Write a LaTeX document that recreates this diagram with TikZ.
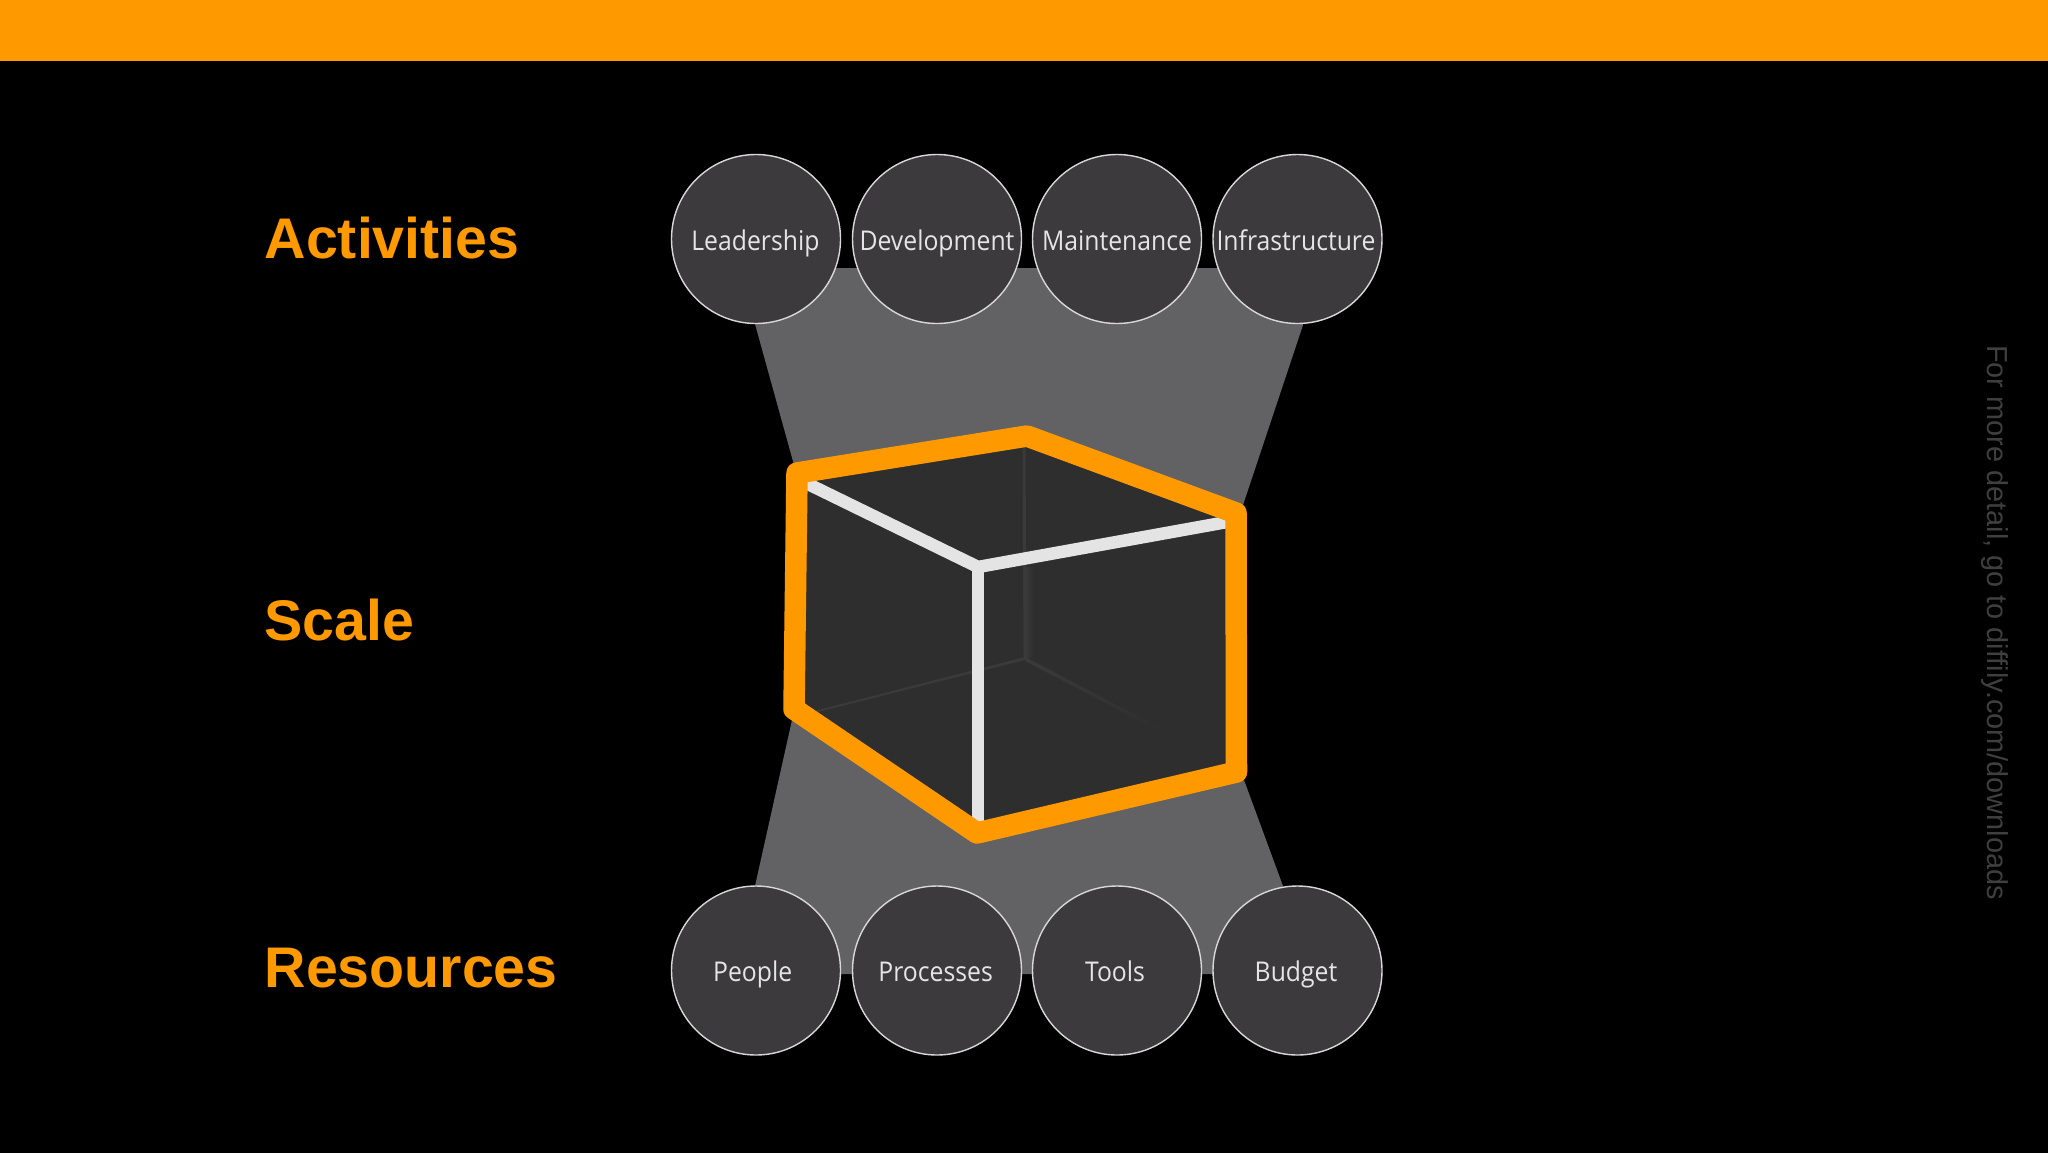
\documentclass[tikz,border=0pt]{standalone}
\usepackage{fontspec}
\setmainfont{Liberation Sans}
\newfontfamily\circfont[FakeStretch=0.91]{Open Sans}
\definecolor{barorange}{HTML}{FF9900}
\definecolor{bandgray}{HTML}{626163}
\definecolor{circfill}{HTML}{3C3A3D}
\definecolor{circline}{HTML}{D8D8D8}
\definecolor{cubefill}{HTML}{2E2E2F}
\definecolor{cubewhite}{HTML}{E4E4E4}
\definecolor{ghost}{HTML}{3A3A3B}
\definecolor{notegray}{HTML}{3F3F3F}
\tikzset{
  x=1pt,y=-1pt,
  bubble/.style={circle,draw=circline,line width=1.4pt,fill=circfill,minimum size=169pt,inner sep=0pt},
  bubbletext/.style={anchor=base,inner sep=0pt,text=white!90!black,font=\circfont\fontsize{27.2}{27.2}\selectfont},
  heading/.style={anchor=base west,inner sep=0pt,text=barorange,font=\bfseries\fontsize{57.3}{57.3}\selectfont},
  frameline/.style={draw=barorange,line width=21.5pt,line join=round},
  edgeline/.style={draw=cubewhite,line width=12.5pt,line join=miter},
  ghostline/.style={draw=ghost,line width=3pt},
  note/.style={anchor=base west,inner sep=0pt,rotate=-90,text=notegray,font=\fontsize{28.9}{28.9}\selectfont},
}
\begin{document}
\begin{tikzpicture}
\useasboundingbox (0,0) rectangle (2048,1152);
\fill[black] (-6,-6) rectangle (2054,1158);
\fill[barorange] (-6,-6) rectangle (2054,61);
% gray bands
\fill[bandgray] (756,268) -- (1297,268) -- (1303,325) -- (1243,505) -- (794,465) -- (755,324) -- cycle;
\fill[bandgray] (792,720) -- (1244,780) -- (1283,886) -- (1297,974) -- (756,974) -- (755,886) -- cycle;
% cube
\coordinate (tl) at (797,473);
\coordinate (tp) at (1027,436);
\coordinate (rt) at (1236,513);
\coordinate (rb) at (1236.5,772);
\coordinate (bt) at (977,833);
\coordinate (lb) at (794,709);
\coordinate (ctr) at (978,567);
\coordinate (back) at (1025,657);
\fill[cubefill] (tl) -- (tp) -- (rt) -- (rb) -- (bt) -- (lb) -- cycle;
\draw[ghostline] (1024,446) -- (back);
\shade[left color=ghost,right color=cubefill] (1025,567) rectangle (1033,657);
\fill[ghost] (814,711) -- (back) -- (1025,660) -- (814,713) -- cycle;
\shade[left color=ghost,right color=cubefill] (back) -- (1165,730) -- (1165,734) -- (1025,661) -- cycle;
\draw[edgeline] (806,483) -- (ctr) -- (1227,522);
\draw[draw=cubewhite,line width=11.5pt] (ctr) -- (978,822);
\draw[frameline] (tl) -- (tp) -- (rt) -- (rb) -- (bt) -- (lb) -- cycle;
% bubbles
\node[bubble] (c1) at (756,239) {};
\node[bubble] (c2) at (937,239) {};
\node[bubble] (c3) at (1117,239) {};
\node[bubble] (c4) at (1297.5,239) {};
\node[bubble] (c5) at (756,970.5) {};
\node[bubble] (c6) at (937,970.5) {};
\node[bubble] (c7) at (1117,970.5) {};
\node[bubble] (c8) at (1297.5,970.5) {};
\node[bubbletext] (t1) at (755.4,250) {Leadership};
\node[bubbletext] (t2) at (937,250) {Development};
\node[bubbletext] (t3) at (1117,250) {Maintenance};
\node[bubbletext] (t4) at (1296,250) {Infrastructure};
\node[bubbletext] (t5) at (752.7,981) {People};
\node[bubbletext] (t6) at (935.7,981) {Processes};
\node[bubbletext] (t7) at (1115,981) {Tools};
\node[bubbletext] (t8) at (1296,981) {Budget};
% headings
\node[heading] (h1) at (264.5,258) {Activities};
\node[heading] (h2) at (264.5,640) {Scale};
\node[heading] (h3) at (264.5,987) {Resources};
\node[note] (n1) at (1987,345) {For more detail, go to diffily.com/downloads};
\end{tikzpicture}
\end{document}
